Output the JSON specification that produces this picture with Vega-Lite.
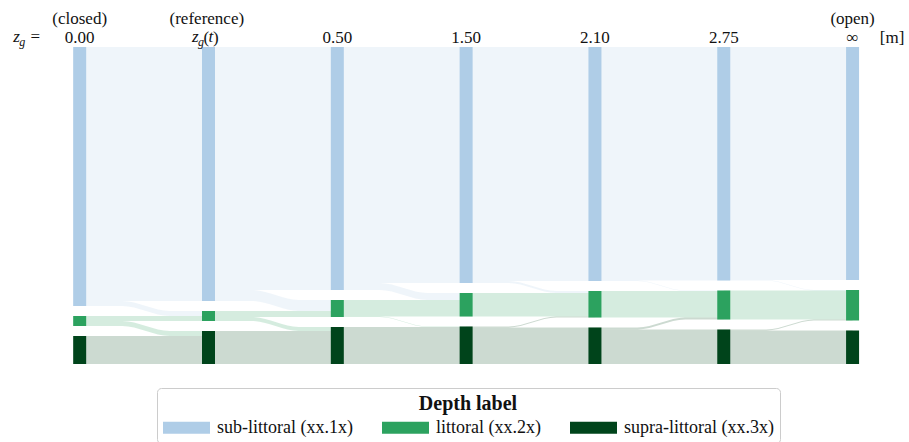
{
  "$schema": "https://vega.github.io/schema/vega-lite/v6.json",
  "width": 909,
  "height": 442,
  "autosize": {"type": "none"},
  "padding": 0,
  "background": "white",
  "config": {"view": {"stroke": null}},
  "datasets": {
    "nodes": [
      {"c": 0, "d": "sub-littoral (xx.1x)", "lo": 0, "hi": 259},
      {"c": 0, "d": "littoral (xx.2x)", "lo": 269, "hi": 279},
      {"c": 0, "d": "supra-littoral (xx.3x)", "lo": 289, "hi": 317},
      {"c": 1, "d": "sub-littoral (xx.1x)", "lo": 0, "hi": 254},
      {"c": 1, "d": "littoral (xx.2x)", "lo": 264, "hi": 274},
      {"c": 1, "d": "supra-littoral (xx.3x)", "lo": 284, "hi": 317},
      {"c": 2, "d": "sub-littoral (xx.1x)", "lo": 0, "hi": 243},
      {"c": 2, "d": "littoral (xx.2x)", "lo": 253, "hi": 270},
      {"c": 2, "d": "supra-littoral (xx.3x)", "lo": 280, "hi": 317},
      {"c": 3, "d": "sub-littoral (xx.1x)", "lo": 0, "hi": 236},
      {"c": 3, "d": "littoral (xx.2x)", "lo": 246, "hi": 269.5},
      {"c": 3, "d": "supra-littoral (xx.3x)", "lo": 279.5, "hi": 317},
      {"c": 4, "d": "sub-littoral (xx.1x)", "lo": 0, "hi": 234},
      {"c": 4, "d": "littoral (xx.2x)", "lo": 244, "hi": 270.5},
      {"c": 4, "d": "supra-littoral (xx.3x)", "lo": 280.5, "hi": 317},
      {"c": 5, "d": "sub-littoral (xx.1x)", "lo": 0, "hi": 233.5},
      {"c": 5, "d": "littoral (xx.2x)", "lo": 243.5, "hi": 272.5},
      {"c": 5, "d": "supra-littoral (xx.3x)", "lo": 282.5, "hi": 317},
      {"c": 6, "d": "sub-littoral (xx.1x)", "lo": 0, "hi": 233},
      {"c": 6, "d": "littoral (xx.2x)", "lo": 243, "hi": 273.5},
      {"c": 6, "d": "supra-littoral (xx.3x)", "lo": 283.5, "hi": 317}
    ],
    "flows": [
      {"f": "01BB", "d": "sub-littoral (xx.1x)", "x": 0, "lo": 0, "hi": 254},
      {"f": "01BB", "d": "sub-littoral (xx.1x)", "x": 1, "lo": 0, "hi": 254},
      {"f": "01BL", "d": "sub-littoral (xx.1x)", "x": 0, "lo": 254, "hi": 259},
      {"f": "01BL", "d": "sub-littoral (xx.1x)", "x": 0.33, "lo": 254, "hi": 259},
      {"f": "01BL", "d": "sub-littoral (xx.1x)", "x": 0.7, "lo": 264, "hi": 269},
      {"f": "01BL", "d": "sub-littoral (xx.1x)", "x": 1, "lo": 264, "hi": 269},
      {"f": "01LL", "d": "littoral (xx.2x)", "x": 0, "lo": 269, "hi": 274},
      {"f": "01LL", "d": "littoral (xx.2x)", "x": 1, "lo": 269, "hi": 274},
      {"f": "01LU", "d": "littoral (xx.2x)", "x": 0, "lo": 274, "hi": 279},
      {"f": "01LU", "d": "littoral (xx.2x)", "x": 0.33, "lo": 274, "hi": 279},
      {"f": "01LU", "d": "littoral (xx.2x)", "x": 0.7, "lo": 284, "hi": 289},
      {"f": "01LU", "d": "littoral (xx.2x)", "x": 1, "lo": 284, "hi": 289},
      {"f": "01UU", "d": "supra-littoral (xx.3x)", "x": 0, "lo": 289, "hi": 317},
      {"f": "01UU", "d": "supra-littoral (xx.3x)", "x": 1, "lo": 289, "hi": 317},

      {"f": "12BB", "d": "sub-littoral (xx.1x)", "x": 1, "lo": 0, "hi": 243},
      {"f": "12BB", "d": "sub-littoral (xx.1x)", "x": 2, "lo": 0, "hi": 243},
      {"f": "12BL", "d": "sub-littoral (xx.1x)", "x": 1, "lo": 243, "hi": 254},
      {"f": "12BL", "d": "sub-littoral (xx.1x)", "x": 1.33, "lo": 243, "hi": 254},
      {"f": "12BL", "d": "sub-littoral (xx.1x)", "x": 1.7, "lo": 253, "hi": 264},
      {"f": "12BL", "d": "sub-littoral (xx.1x)", "x": 2, "lo": 253, "hi": 264},
      {"f": "12LL", "d": "littoral (xx.2x)", "x": 1, "lo": 264, "hi": 270},
      {"f": "12LL", "d": "littoral (xx.2x)", "x": 2, "lo": 264, "hi": 270},
      {"f": "12LU", "d": "littoral (xx.2x)", "x": 1, "lo": 270, "hi": 274},
      {"f": "12LU", "d": "littoral (xx.2x)", "x": 1.33, "lo": 270, "hi": 274},
      {"f": "12LU", "d": "littoral (xx.2x)", "x": 1.7, "lo": 280, "hi": 284},
      {"f": "12LU", "d": "littoral (xx.2x)", "x": 2, "lo": 280, "hi": 284},
      {"f": "12UU", "d": "supra-littoral (xx.3x)", "x": 1, "lo": 284, "hi": 317},
      {"f": "12UU", "d": "supra-littoral (xx.3x)", "x": 2, "lo": 284, "hi": 317},

      {"f": "23BB", "d": "sub-littoral (xx.1x)", "x": 2, "lo": 0, "hi": 236},
      {"f": "23BB", "d": "sub-littoral (xx.1x)", "x": 3, "lo": 0, "hi": 236},
      {"f": "23BL", "d": "sub-littoral (xx.1x)", "x": 2, "lo": 236, "hi": 243},
      {"f": "23BL", "d": "sub-littoral (xx.1x)", "x": 2.33, "lo": 236, "hi": 243},
      {"f": "23BL", "d": "sub-littoral (xx.1x)", "x": 2.7, "lo": 246, "hi": 253},
      {"f": "23BL", "d": "sub-littoral (xx.1x)", "x": 3, "lo": 246, "hi": 253},
      {"f": "23LL", "d": "littoral (xx.2x)", "x": 2, "lo": 253, "hi": 269.5},
      {"f": "23LL", "d": "littoral (xx.2x)", "x": 3, "lo": 253, "hi": 269.5},
      {"f": "23LU", "d": "littoral (xx.2x)", "x": 2, "lo": 269.5, "hi": 270},
      {"f": "23LU", "d": "littoral (xx.2x)", "x": 2.33, "lo": 269.5, "hi": 270},
      {"f": "23LU", "d": "littoral (xx.2x)", "x": 2.7, "lo": 279.5, "hi": 280},
      {"f": "23LU", "d": "littoral (xx.2x)", "x": 3, "lo": 279.5, "hi": 280},
      {"f": "23UU", "d": "supra-littoral (xx.3x)", "x": 2, "lo": 280, "hi": 317},
      {"f": "23UU", "d": "supra-littoral (xx.3x)", "x": 3, "lo": 280, "hi": 317},

      {"f": "34BB", "d": "sub-littoral (xx.1x)", "x": 3, "lo": 0, "hi": 234},
      {"f": "34BB", "d": "sub-littoral (xx.1x)", "x": 4, "lo": 0, "hi": 234},
      {"f": "34BL", "d": "sub-littoral (xx.1x)", "x": 3, "lo": 234, "hi": 236},
      {"f": "34BL", "d": "sub-littoral (xx.1x)", "x": 3.33, "lo": 234, "hi": 236},
      {"f": "34BL", "d": "sub-littoral (xx.1x)", "x": 3.7, "lo": 244, "hi": 246},
      {"f": "34BL", "d": "sub-littoral (xx.1x)", "x": 4, "lo": 244, "hi": 246},
      {"f": "34LL", "d": "littoral (xx.2x)", "x": 3, "lo": 246, "hi": 269.5},
      {"f": "34LL", "d": "littoral (xx.2x)", "x": 4, "lo": 246, "hi": 269.5},
      {"f": "34UL", "d": "supra-littoral (xx.3x)", "x": 3, "lo": 279.5, "hi": 280.5},
      {"f": "34UL", "d": "supra-littoral (xx.3x)", "x": 3.33, "lo": 279.5, "hi": 280.5},
      {"f": "34UL", "d": "supra-littoral (xx.3x)", "x": 3.7, "lo": 269.5, "hi": 270.5},
      {"f": "34UL", "d": "supra-littoral (xx.3x)", "x": 4, "lo": 269.5, "hi": 270.5},
      {"f": "34UU", "d": "supra-littoral (xx.3x)", "x": 3, "lo": 280.5, "hi": 317},
      {"f": "34UU", "d": "supra-littoral (xx.3x)", "x": 4, "lo": 280.5, "hi": 317},

      {"f": "45BB", "d": "sub-littoral (xx.1x)", "x": 4, "lo": 0, "hi": 233.5},
      {"f": "45BB", "d": "sub-littoral (xx.1x)", "x": 5, "lo": 0, "hi": 233.5},
      {"f": "45BL", "d": "sub-littoral (xx.1x)", "x": 4, "lo": 233.5, "hi": 234},
      {"f": "45BL", "d": "sub-littoral (xx.1x)", "x": 4.33, "lo": 233.5, "hi": 234},
      {"f": "45BL", "d": "sub-littoral (xx.1x)", "x": 4.7, "lo": 243.5, "hi": 244},
      {"f": "45BL", "d": "sub-littoral (xx.1x)", "x": 5, "lo": 243.5, "hi": 244},
      {"f": "45LL", "d": "littoral (xx.2x)", "x": 4, "lo": 244, "hi": 270.5},
      {"f": "45LL", "d": "littoral (xx.2x)", "x": 5, "lo": 244, "hi": 270.5},
      {"f": "45UL", "d": "supra-littoral (xx.3x)", "x": 4, "lo": 280.5, "hi": 282.5},
      {"f": "45UL", "d": "supra-littoral (xx.3x)", "x": 4.33, "lo": 280.5, "hi": 282.5},
      {"f": "45UL", "d": "supra-littoral (xx.3x)", "x": 4.7, "lo": 270.5, "hi": 272.5},
      {"f": "45UL", "d": "supra-littoral (xx.3x)", "x": 5, "lo": 270.5, "hi": 272.5},
      {"f": "45UU", "d": "supra-littoral (xx.3x)", "x": 4, "lo": 282.5, "hi": 317},
      {"f": "45UU", "d": "supra-littoral (xx.3x)", "x": 5, "lo": 282.5, "hi": 317},

      {"f": "56BB", "d": "sub-littoral (xx.1x)", "x": 5, "lo": 0, "hi": 233},
      {"f": "56BB", "d": "sub-littoral (xx.1x)", "x": 6, "lo": 0, "hi": 233},
      {"f": "56BL", "d": "sub-littoral (xx.1x)", "x": 5, "lo": 233, "hi": 233.5},
      {"f": "56BL", "d": "sub-littoral (xx.1x)", "x": 5.33, "lo": 233, "hi": 233.5},
      {"f": "56BL", "d": "sub-littoral (xx.1x)", "x": 5.7, "lo": 243, "hi": 243.5},
      {"f": "56BL", "d": "sub-littoral (xx.1x)", "x": 6, "lo": 243, "hi": 243.5},
      {"f": "56LL", "d": "littoral (xx.2x)", "x": 5, "lo": 243.5, "hi": 272.5},
      {"f": "56LL", "d": "littoral (xx.2x)", "x": 6, "lo": 243.5, "hi": 272.5},
      {"f": "56UL", "d": "supra-littoral (xx.3x)", "x": 5, "lo": 282.5, "hi": 283.5},
      {"f": "56UL", "d": "supra-littoral (xx.3x)", "x": 5.33, "lo": 282.5, "hi": 283.5},
      {"f": "56UL", "d": "supra-littoral (xx.3x)", "x": 5.7, "lo": 272.5, "hi": 273.5},
      {"f": "56UL", "d": "supra-littoral (xx.3x)", "x": 6, "lo": 272.5, "hi": 273.5},
      {"f": "56UU", "d": "supra-littoral (xx.3x)", "x": 5, "lo": 283.5, "hi": 317},
      {"f": "56UU", "d": "supra-littoral (xx.3x)", "x": 6, "lo": 283.5, "hi": 317}
    ],
    "labels": [
      {"x": 0, "y": -23, "t": "(closed)", "s": "n"},
      {"x": 0, "y": -4, "t": "0.00", "s": "n"},
      {"x": 0.987, "y": -23, "t": "(reference)", "s": "n"},
      {"x": 2, "y": -4, "t": "0.50", "s": "n"},
      {"x": 3, "y": -4, "t": "1.50", "s": "n"},
      {"x": 4, "y": -4, "t": "2.10", "s": "n"},
      {"x": 5, "y": -4, "t": "2.75", "s": "n"},
      {"x": 6, "y": -23, "t": "(open)", "s": "n"},
      {"x": 6, "y": -4, "t": "∞", "s": "n"},
      {"x": 6.307, "y": -4, "t": "[m]", "s": "n"},
      {"x": -0.345, "y": -5, "t": "=", "s": "n"},
      {"x": 0.983, "y": -4, "t": "(", "s": "n"},
      {"x": 1.056, "y": -4, "t": ")", "s": "n"},
      {"x": -0.49, "y": -5, "t": "z", "s": "i"},
      {"x": 0.898, "y": -5, "t": "z", "s": "i"},
      {"x": 1.019, "y": -5, "t": "t", "s": "i"},
      {"x": -0.446, "y": -1, "t": "g", "s": "g"},
      {"x": 0.941, "y": -1, "t": "g", "s": "g"}
    ]
  },
  "resolve": {"scale": {"color": "independent"}, "legend": {"color": "independent"}},
  "layer": [
    {
      "data": {"name": "flows"},
      "mark": {"type": "area", "interpolate": "monotone", "opacity": 0.2, "orient": "vertical"},
      "encoding": {
        "x": {"field": "x", "type": "quantitative", "scale": {"domain": [-0.5797, 6.3992], "nice": false, "zero": false}, "axis": null},
        "y": {"field": "lo", "type": "quantitative", "stack": null, "scale": {"domain": [-47, 395], "reverse": true, "nice": false, "zero": false}, "axis": null},
        "y2": {"field": "hi"},
        "detail": {"field": "f"},
        "color": {"field": "d", "type": "nominal", "scale": {"domain": ["sub-littoral (xx.1x)", "littoral (xx.2x)", "supra-littoral (xx.3x)"], "range": ["#afcde7", "#2ca25f", "#00441b"]}, "legend": null}
      }
    },
    {
      "data": {"name": "nodes"},
      "mark": {"type": "bar", "width": 13, "opacity": 1},
      "encoding": {
        "x": {"field": "c", "type": "quantitative", "scale": {"domain": [-0.5797, 6.3992], "nice": false, "zero": false}, "axis": null},
        "y": {"field": "lo", "type": "quantitative", "stack": null, "scale": {"domain": [-47, 395], "reverse": true, "nice": false, "zero": false}, "axis": null},
        "y2": {"field": "hi"},
        "color": {
          "field": "d", "type": "nominal",
          "scale": {"domain": ["sub-littoral (xx.1x)", "littoral (xx.2x)", "supra-littoral (xx.3x)"], "range": ["#afcde7", "#2ca25f", "#00441b"]},
          "legend": {
            "orient": "none", "legendX": 157, "legendY": 388, "direction": "horizontal",
            "title": "Depth label", "titleFont": "Liberation Serif, serif", "titleFontSize": 20, "titleFontWeight": "bold",
            "titleAnchor": "middle", "titleColor": "#111", "titlePadding": -10,
            "labelFont": "Liberation Serif, serif", "labelFontSize": 18, "labelColor": "#111", "labelLimit": 400,
            "symbolType": "M-1,-0.26H1V0.26H-1Z", "symbolSize": 2209, "symbolStrokeWidth": 0, "symbolOpacity": 1,
            "labelOffset": 7, "columnPadding": 29, "padding": 6,
            "strokeColor": "#cccccc", "cornerRadius": 4, "fillColor": "white"
          }
        }
      }
    },
    {
      "data": {"name": "labels"},
      "transform": [{"filter": "datum.s == 'n'"}],
      "mark": {"type": "text", "font": "Liberation Serif, serif", "fontSize": 17, "align": "center", "baseline": "alphabetic", "color": "#111"},
      "encoding": {
        "x": {"field": "x", "type": "quantitative", "scale": {"domain": [-0.5797, 6.3992], "nice": false, "zero": false}, "axis": null},
        "y": {"field": "y", "type": "quantitative", "scale": {"domain": [-47, 395], "reverse": true, "nice": false, "zero": false}, "axis": null},
        "text": {"field": "t"}
      }
    },
    {
      "data": {"name": "labels"},
      "transform": [{"filter": "datum.s == 'i'"}],
      "mark": {"type": "text", "font": "Liberation Serif, serif", "fontStyle": "italic", "fontSize": 17, "align": "center", "baseline": "alphabetic", "color": "#111"},
      "encoding": {
        "x": {"field": "x", "type": "quantitative", "scale": {"domain": [-0.5797, 6.3992], "nice": false, "zero": false}, "axis": null},
        "y": {"field": "y", "type": "quantitative", "scale": {"domain": [-47, 395], "reverse": true, "nice": false, "zero": false}, "axis": null},
        "text": {"field": "t"}
      }
    },
    {
      "data": {"name": "labels"},
      "transform": [{"filter": "datum.s == 'g'"}],
      "mark": {"type": "text", "font": "Liberation Serif, serif", "fontStyle": "italic", "fontSize": 12, "align": "center", "baseline": "alphabetic", "color": "#111"},
      "encoding": {
        "x": {"field": "x", "type": "quantitative", "scale": {"domain": [-0.5797, 6.3992], "nice": false, "zero": false}, "axis": null},
        "y": {"field": "y", "type": "quantitative", "scale": {"domain": [-47, 395], "reverse": true, "nice": false, "zero": false}, "axis": null},
        "text": {"field": "t"}
      }
    }
  ]
}
